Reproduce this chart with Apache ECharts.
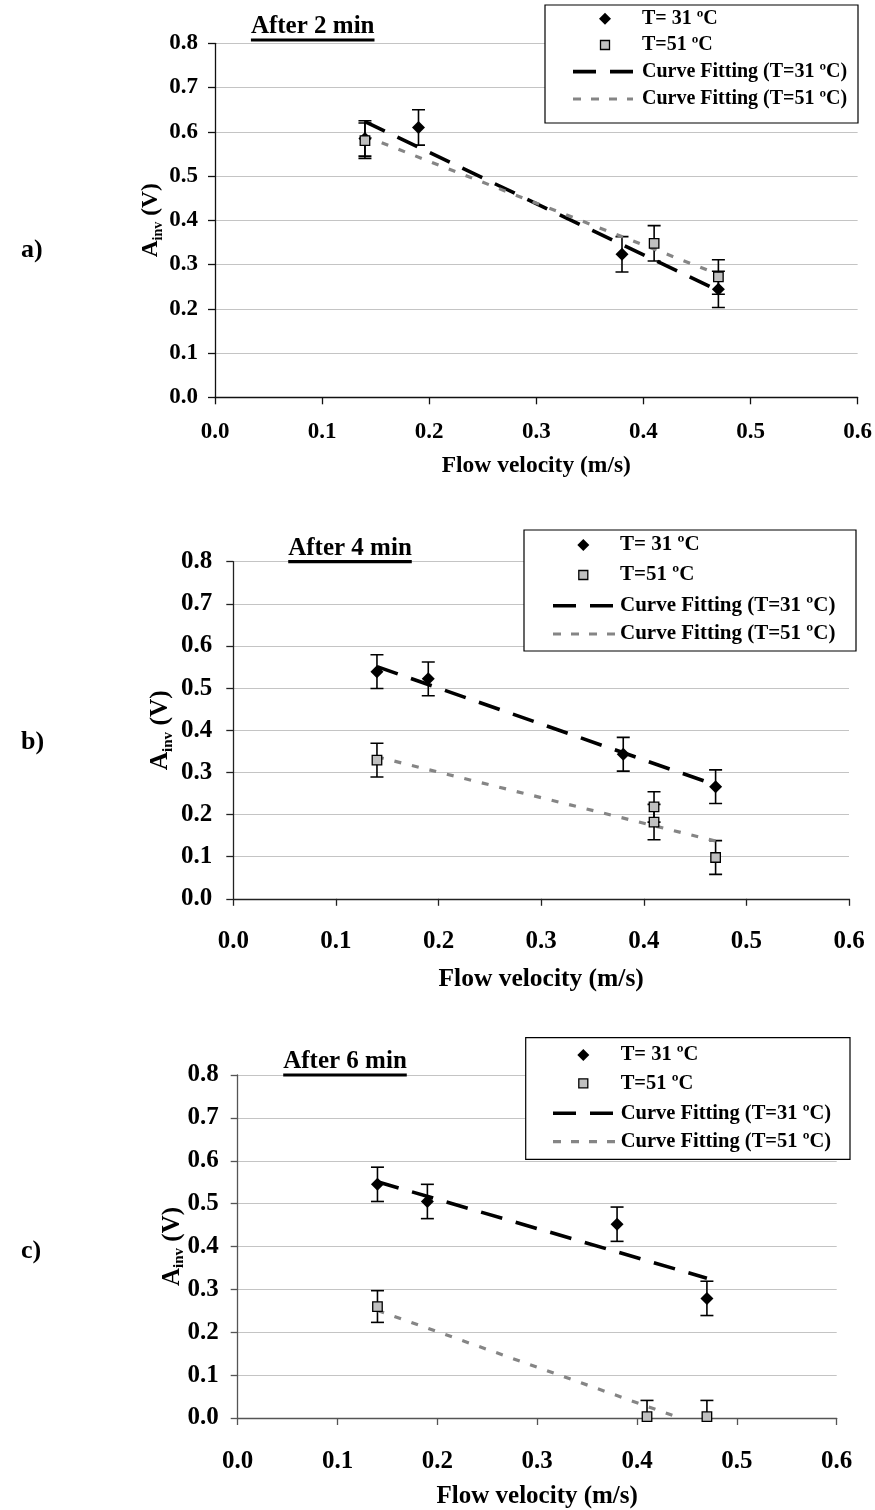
<!DOCTYPE html>
<html>
<head>
<meta charset="utf-8">
<script src="https://cdn.jsdelivr.net/npm/echarts@6/dist/echarts.min.js"></script>
<style>
  html, body { margin: 0; padding: 0; background: #fff; }
  #chart { width: 875px; height: 1510px; }
</style>
</head>
<body>
<div id="chart"></div>
<script>
// ---- axis ticks ----
const xTicks = { min: 0, max: 0.6, step: 0.1 };
const yTicks = { min: 0, max: 0.8, step: 0.1 };

// ---- legend / series names ----
const name31 = 'T= 31 ºC';
const name51 = 'T=51 ºC';
const fitName31 = 'Curve Fitting (T=31 ºC)';
const fitName51 = 'Curve Fitting (T=51 ºC)';
const legendNames = [name31, name51, fitName31, fitName51];

// ---- a) after 2 min ----
const a31 = [[0.14, 0.585], [0.19, 0.61], [0.38, 0.323], [0.47, 0.244]];
const a31Err = [0.04, 0.04, 0.04, 0.041];
const a51 = [[0.14, 0.58], [0.41, 0.348], [0.47, 0.272]];
const a51Err = [0.04, 0.04, 0.039];
const a31Fit = [[0.14, 0.623], [0.47, 0.241]];
const a51Fit = [[0.14, 0.59], [0.47, 0.278]];

// ---- b) after 4 min ----
const b31 = [[0.14, 0.539], [0.19, 0.522], [0.38, 0.343], [0.47, 0.266]];
const b31Err = [0.04, 0.04, 0.04, 0.04];
const b51 = [[0.14, 0.329], [0.41, 0.218], [0.41, 0.182], [0.47, 0.098]];
const b51Err = [0.04, 0.036, 0.042, 0.04];
const b31Fit = [[0.14, 0.551], [0.47, 0.270]];
const b51Fit = [[0.14, 0.337], [0.47, 0.137]];

// ---- c) after 6 min ----
const c31 = [[0.14, 0.545], [0.19, 0.505], [0.38, 0.452], [0.47, 0.279]];
const c31Err = [0.04, 0.04, 0.04, 0.04];
const c51 = [[0.14, 0.26], [0.41, 0.003], [0.47, 0.003]];
const c51Err = [0.037, 0.038, 0.038];
const c31Fit = [[0.14, 0.551], [0.47, 0.326]];
const c51Fit = [[0.14, 0.251], [0.443, 0]];

const titles = ['After 2 min', 'After 4 min', 'After 6 min'];
const panelTags = ['a)', 'b)', 'c)'];

const FONT = "'Liberation Serif', 'Times New Roman', serif";
const COLOR31 = '#000';
const COLOR51_FILL = '#c0c0c0';
const COLOR51_LINE = '#858585';
const DASH31 = [22, 14];
const DASH51 = [7, 11];

// per-panel layout and typography
const panels = [
  {
    grid: { left: 215, top: 43.3, width: 648, height: 354 },
    tickFont: 23, titleFont: 23.5, legendFont: 20, axisColor: '#111',
    xLabelMargin: 23, yLabelMargin: 17, xNameGap: 57, yNameGap: 50,
    legend: { box: [545, 5, 858, 123], rows: [18.8, 45, 71.6, 99], markX: 605, line: [573, 633], textX: 642 },
    title: { x: 312.7, y: 26.7, underline: 40 }, tag: { x: 21, y: 250 },
    s31: a31, e31: a31Err, s51: a51, e51: a51Err, f31: a31Fit, f51: a51Fit
  },
  {
    grid: { left: 233.3, top: 561.7, width: 615.7, height: 337.1 },
    tickFont: 25, titleFont: 25.5, legendFont: 21, axisColor: '#222',
    xLabelMargin: 30, yLabelMargin: 21, xNameGap: 68, yNameGap: 58,
    legend: { box: [524, 530, 856, 651], rows: [545, 575, 605.7, 634], markX: 583.3, line: [553, 615], textX: 620 },
    title: { x: 350, y: 549, underline: 561.7 }, tag: { x: 21, y: 742 },
    s31: b31, e31: b31Err, s51: b51, e51: b51Err, f31: b31Fit, f51: b51Fit
  },
  {
    grid: { left: 237.7, top: 1075, width: 599, height: 345 },
    tickFont: 25, titleFont: 25, legendFont: 20.5, axisColor: '#555',
    xLabelMargin: 31, yLabelMargin: 19, xNameGap: 66, yNameGap: 51,
    legend: { box: [525.7, 1037.7, 850, 1159.3], rows: [1055, 1083.3, 1113.3, 1141.7], markX: 583.3, line: [553, 618], textX: 620.7 },
    title: { x: 345, y: 1061.7, underline: 1075 }, tag: { x: 21, y: 1251 },
    s31: c31, e31: c31Err, s51: c51, e51: c51Err, f31: c31Fit, f51: c51Fit
  }
];

// text width helper for the underlined panel titles
const measureCtx = document.createElement('canvas').getContext('2d');
function textWidth(str, size) {
  measureCtx.font = 'bold ' + size + 'px ' + FONT;
  return measureCtx.measureText(str).width;
}

// error bar: vertical whisker with caps, drawn through the axis scale
function errorBarItem(params, api) {
  const x = api.value(0);
  const lo = api.coord([x, api.value(1)]);
  const hi = api.coord([x, api.value(2)]);
  const w = 6.5;
  const style = { stroke: '#000', lineWidth: 1.6, fill: null };
  return {
    type: 'group',
    children: [
      { type: 'line', shape: { x1: lo[0], y1: lo[1], x2: hi[0], y2: hi[1] }, style },
      { type: 'line', shape: { x1: lo[0] - w, y1: lo[1], x2: lo[0] + w, y2: lo[1] }, style },
      { type: 'line', shape: { x1: hi[0] - w, y1: hi[1], x2: hi[0] + w, y2: hi[1] }, style }
    ]
  };
}

function errData(points, errs) {
  return points.map((p, i) => [p[0], p[1] - errs[i], p[1] + errs[i]]);
}

// boxed legend: marker / dash samples followed by bold labels
function legendGraphics(p) {
  const L = p.legend;
  const [x0, y0, x1, y1] = L.box;
  const els = [];
  els.push({
    type: 'rect', z: 30,
    shape: { x: x0, y: y0, width: x1 - x0, height: y1 - y0 },
    style: { fill: '#fff', stroke: '#000', lineWidth: 1.2 }
  });
  const r = L.rows;
  const d = 6;
  els.push({
    type: 'polygon', z: 31,
    shape: { points: [[L.markX, r[0] - d], [L.markX + d, r[0]], [L.markX, r[0] + d], [L.markX - d, r[0]]] },
    style: { fill: COLOR31 }
  });
  els.push({
    type: 'rect', z: 31,
    shape: { x: L.markX - 4.5, y: r[1] - 4.5, width: 9, height: 9 },
    style: { fill: COLOR51_FILL, stroke: '#000', lineWidth: 1.3 }
  });
  els.push({
    type: 'line', z: 31,
    shape: { x1: L.line[0], y1: r[2], x2: L.line[1], y2: r[2] },
    style: { stroke: COLOR31, lineWidth: 3.6, lineDash: [23, 14] }
  });
  els.push({
    type: 'line', z: 31,
    shape: { x1: L.line[0], y1: r[3], x2: L.line[1], y2: r[3] },
    style: { stroke: COLOR51_LINE, lineWidth: 3.2, lineDash: [8, 10] }
  });
  legendNames.forEach((nm, k) => {
    els.push({
      type: 'text', x: L.textX, y: r[k], z: 31,
      style: {
        text: nm, font: 'bold ' + p.legendFont + 'px ' + FONT, fill: '#000',
        textAlign: 'left', textVerticalAlign: 'middle', align: 'left', verticalAlign: 'middle'
      }
    });
  });
  return els;
}

const grids = [], xAxes = [], yAxes = [], series = [], graphics = [];

panels.forEach((p, i) => {
  grids.push(Object.assign({ containLabel: false }, p.grid));

  xAxes.push({
    type: 'value', gridIndex: i,
    min: xTicks.min, max: xTicks.max, interval: xTicks.step,
    name: 'Flow velocity (m/s)', nameLocation: 'middle', nameGap: p.xNameGap, nameMoveOverlap: false,
    nameTextStyle: { fontFamily: FONT, fontWeight: 'bold', fontSize: p.titleFont, color: '#000' },
    axisLine: { show: true, onZero: false, lineStyle: { color: p.axisColor, width: 1.3 } },
    axisTick: { show: true, length: 7, lineStyle: { color: p.axisColor, width: 1.3 } },
    axisLabel: {
      margin: p.xLabelMargin, fontFamily: FONT, fontWeight: 'bold', fontSize: p.tickFont, color: '#000',
      formatter: v => v.toFixed(1)
    },
    splitLine: { show: false }
  });

  yAxes.push({
    type: 'value', gridIndex: i,
    min: yTicks.min, max: yTicks.max, interval: yTicks.step,
    name: '{m|A}{s|inv}{m| (V)}', nameLocation: 'middle', nameRotate: 90, nameGap: p.yNameGap,
    nameMoveOverlap: false,
    nameTextStyle: {
      rich: {
        m: { fontFamily: FONT, fontWeight: 'bold', fontSize: p.titleFont, color: '#000', lineHeight: p.titleFont + 4 },
        s: { fontFamily: FONT, fontWeight: 'bold', fontSize: Math.round(p.titleFont * 0.6), color: '#000',
             lineHeight: Math.round(p.titleFont * 0.6), verticalAlign: 'bottom' }
      }
    },
    axisLine: { show: true, onZero: false, lineStyle: { color: p.axisColor, width: 1.3 } },
    axisTick: { show: true, length: 7, lineStyle: { color: p.axisColor, width: 1.3 } },
    axisLabel: {
      margin: p.yLabelMargin, fontFamily: FONT, fontWeight: 'bold', fontSize: p.tickFont, color: '#000',
      formatter: v => v.toFixed(1)
    },
    splitLine: { show: true, lineStyle: { color: '#c4c4c4', width: 1.2 } }
  });

  series.push(
    {
      name: 'err31-' + i, type: 'custom', xAxisIndex: i, yAxisIndex: i,
      renderItem: errorBarItem, data: errData(p.s31, p.e31), clip: true, z: 2, silent: true
    },
    {
      name: 'err51-' + i, type: 'custom', xAxisIndex: i, yAxisIndex: i,
      renderItem: errorBarItem, data: errData(p.s51, p.e51), clip: true, z: 2, silent: true
    },
    {
      name: fitName31, type: 'line', xAxisIndex: i, yAxisIndex: i, data: p.f31,
      symbol: 'none', z: 3, silent: true,
      lineStyle: { color: COLOR31, width: 3.6, type: DASH31, cap: 'butt' }
    },
    {
      name: fitName51, type: 'line', xAxisIndex: i, yAxisIndex: i, data: p.f51,
      symbol: 'none', z: 3, silent: true,
      lineStyle: { color: COLOR51_LINE, width: 3.2, type: DASH51, cap: 'butt' }
    },
    {
      name: name31, type: 'scatter', xAxisIndex: i, yAxisIndex: i, data: p.s31,
      symbol: 'diamond', symbolSize: 13, z: 4, silent: true,
      itemStyle: { color: COLOR31, opacity: 1 }
    },
    {
      name: name51, type: 'scatter', xAxisIndex: i, yAxisIndex: i, data: p.s51,
      symbol: 'rect', symbolSize: 9.5, z: 5, silent: true,
      itemStyle: { color: COLOR51_FILL, borderColor: '#000', borderWidth: 1.3, opacity: 1 }
    }
  );

  // underlined panel title and panel tag
  const tw = textWidth(titles[i], 25);
  graphics.push(
    {
      type: 'text', x: p.title.x, y: p.title.y, z: 20,
      style: {
        text: titles[i], font: 'bold 25px ' + FONT, fill: '#000',
        textAlign: 'center', textVerticalAlign: 'middle', align: 'center', verticalAlign: 'middle'
      }
    },
    {
      type: 'rect', z: 20,
      shape: { x: p.title.x - tw / 2, y: p.title.underline - 1.6, width: tw, height: 3.2 },
      style: { fill: '#000' }
    },
    {
      type: 'text', x: p.tag.x, y: p.tag.y, z: 20,
      style: {
        text: panelTags[i], font: 'bold 26px ' + FONT, fill: '#000',
        textAlign: 'left', textVerticalAlign: 'middle', align: 'left', verticalAlign: 'middle'
      }
    }
  );
  graphics.push(...legendGraphics(p));
});

const chart = echarts.init(document.getElementById('chart'), null, { renderer: 'canvas' });
chart.setOption({
  backgroundColor: '#fff',
  animation: false,
  grid: grids,
  xAxis: xAxes,
  yAxis: yAxes,
  series: series,
  graphic: graphics
});
</script>
</body>
</html>
